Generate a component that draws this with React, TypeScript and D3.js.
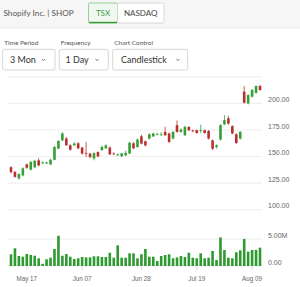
import React from "react";
import * as d3 from "d3";

const dates = [
  "2021-05-11","2021-05-12","2021-05-13","2021-05-14","2021-05-17","2021-05-18","2021-05-19","2021-05-20","2021-05-21",
  "2021-05-25","2021-05-26","2021-05-27","2021-05-28","2021-05-31",
  "2021-06-01","2021-06-02","2021-06-03","2021-06-04","2021-06-07","2021-06-08","2021-06-09","2021-06-10","2021-06-11",
  "2021-06-14","2021-06-15","2021-06-16","2021-06-17","2021-06-18","2021-06-21","2021-06-22","2021-06-23","2021-06-24","2021-06-25",
  "2021-06-28","2021-06-29","2021-06-30","2021-07-02","2021-07-05","2021-07-06","2021-07-07","2021-07-08","2021-07-09",
  "2021-07-12","2021-07-13","2021-07-14","2021-07-15","2021-07-16","2021-07-19","2021-07-20","2021-07-21","2021-07-22","2021-07-23",
  "2021-07-26","2021-07-27","2021-07-28","2021-07-29","2021-07-30","2021-08-03","2021-08-04","2021-08-05","2021-08-06",
  "2021-08-09","2021-08-10","2021-08-11",
];
const opens = [140,135.5,129.5,132.3,142.7,137.7,140,146.5,144,143.6,142.7,147,157.5,165.3,167,160.6,160.6,162.5,158.5,153.5,152.8,148.3,154.3,156,157.8,158.5,152.9,151.5,150.4,151.2,152.9,162.5,159,169.1,164.4,167,169,171,170.6,173.2,171.7,167,179.5,173.2,170,177.9,174.5,174.8,174.2,174.8,174.1,165.3,159,166,180.4,186,178.6,171,167,211,200,206.3,210,216.3];
const highs = [141,136.5,134.5,140,143.5,146,147,148.5,145.5,145,148,160,165.5,173,168.5,161.5,163.5,163.5,159,163.7,153.5,154,155,160.5,161.6,159.5,154,152.9,153.5,155.5,164,163.5,167,170.5,165,172,172.5,172.5,173,178,172.5,174,184,176.5,179,178.5,175.5,175.5,180,175.5,175,166,161.5,180.5,189,188.5,179.5,172,174,216.3,208.5,213.5,217,217.5];
const lows = [134,130,128.5,131.5,138.5,137,139,141,143,143,142,146.5,157,164.5,160,155.5,160,157,152,149.6,148.5,146.5,149.5,155.5,157,151.5,151.5,150.5,149.5,150.5,152.5,157,158.5,161.5,159.5,166,168.5,170,169.5,169.5,163,166,172.5,172.5,169.5,174,173,171.5,172,171.5,166,156,157.5,165,179.5,180,171,162,166,200,199,205.5,209,212];
const closes = [135.5,131,133.5,139,139.5,145,146,141.7,144.5,144.6,147,159,164.7,171.7,160.6,156.5,162.3,157.8,152.8,153,149.6,153.3,150.2,159,160.6,152.1,152.5,152,153,153.5,163,157.8,166,162.2,160.6,171,171.7,171.2,170.9,170.1,163.7,173.2,173.2,175.4,177.9,174.8,174,172.2,174.8,172.2,167,157.5,160.6,179.5,184.2,181,171.7,162.8,173.2,200.6,207.8,212.6,216.3,212.6];
// volume in millions
const volumes = [2.17,3.28,1.85,1.72,2.22,2.04,1.9,1.43,0.4,1.24,1.54,3.15,5.6,1.9,2.22,1.72,1.3,1.43,1.67,1.6,1.6,1.8,1.8,1.67,1.67,2.46,1.54,3.83,1.54,1.54,2.35,2.35,1.43,2.17,3.15,1.72,1.72,0.93,1.85,2.04,2.17,1.43,1.6,1.85,1.67,2.46,1.54,1.43,2.35,1.43,1.54,2.78,1.11,5.3,2.96,1.54,1.43,2.54,2.9,5.0,2.65,2.96,2.96,3.39];

const priceTicks = [100, 125, 150, 175, 200, 225];
const volumeTicks = [0, 5];
const xTickDates = ["2021-05-17", "2021-06-07", "2021-06-28", "2021-07-19", "2021-08-09"];
const xTickLabels = ["May 17", "Jun 07", "Jun 28", "Jul 19", "Aug 09"];
const periods = ["3 Mon", "1 Day", "Candlestick"];
const periodLabels = ["Time Period", "Frequency", "Chart Control"];

const GREEN = "#35a035";
const RED = "#b8312f";
const GRID = "#e9e9e9";
const AXIS_FONT = "'Liberation Sans', Arial, sans-serif";
const UI_FONT = "Lato, 'Open Sans', sans-serif";

export default function App() {
  const W = 300, H = 287;
  const gridX0 = 8, gridX1 = 262;
  const x = d3.scalePoint<string>().domain(dates).range([11, 260]);
  const y = d3.scaleLinear().domain([100, 225]).range([209.8, 76.8]);
  const yv = d3.scaleLinear().domain([0, 5]).range([266, 239]);
  const bw = 2.6;

  const dropdowns = [
    { x: 2.7, w: 52.3, tx: 10, cx: 43.5 },
    { x: 59.3, w: 49, tx: 65.5, cx: 97 },
    { x: 112.7, w: 75, tx: 121, cx: 178 },
  ];

  return (
    <svg width={W} height={H} style={{ position: "absolute", left: 0, top: 0, background: "#fff" }}>
      {/* header strip */}
      <rect x={0} y={0} width={W} height={28} fill="#f6f6f6" />
      <line x1={0} x2={W} y1={28} y2={28} stroke="#e8e8e8" />
      <text x={3.5} y={16} fontFamily={UI_FONT} fontSize={8.2} fill="#555">Shopify Inc. | SHOP</text>
      <rect x={88.5} y={3} width={29} height={20} fill="#f1f8f1" stroke="#7cc47c" strokeWidth={0.8} rx={1.5} />
      <line x1={89} x2={117} y1={22.5} y2={22.5} stroke="#3a9a3a" strokeWidth={1.4} />
      <text x={103} y={15.5} textAnchor="middle" fontFamily={UI_FONT} fontSize={8} fill="#3d9a3d">TSX</text>
      <rect x={117.5} y={3} width={46.5} height={20} fill="#fff" stroke="#cfcfcf" strokeWidth={0.8} rx={1.5} />
      <text x={140.7} y={15.5} textAnchor="middle" fontFamily={UI_FONT} fontSize={8} fill="#444">NASDAQ</text>

      {/* dropdowns */}
      {dropdowns.map((d, i) => (
        <g key={i}>
          <text x={d.x + 1.5} y={45} fontFamily={UI_FONT} fontSize={6.5} fill="#555">{periodLabels[i]}</text>
          <rect x={d.x} y={49.3} width={d.w} height={20.7} fill="#fff" stroke="#cccccc" strokeWidth={0.8} rx={2} />
          <text x={d.tx} y={63} fontFamily={UI_FONT} fontSize={9} fill="#333">{periods[i]}</text>
          <path d={`M${d.cx - 1.6},${59} L${d.cx},${60.6} L${d.cx + 1.6},${59}`} fill="none" stroke="#555" strokeWidth={0.8} />
        </g>
      ))}

      {/* price grid */}
      {priceTicks.map((t) => (
        <g key={"p" + t}>
          <line x1={gridX0} x2={gridX1} y1={y(t)} y2={y(t)} stroke={GRID} strokeWidth={0.8} />
          {t < 225 && (
            <text x={268} y={y(t) - 1.5} fontFamily={AXIS_FONT} fontSize={7} fill="#666">{t.toFixed(2)}</text>
          )}
        </g>
      ))}

      {/* volume grid */}
      {volumeTicks.map((t) => (
        <g key={"v" + t}>
          <line x1={gridX0} x2={gridX1} y1={yv(t)} y2={yv(t)} stroke={GRID} strokeWidth={0.8} />
          <text x={268} y={yv(t) - 1.5} fontFamily={AXIS_FONT} fontSize={7} fill="#666">{t === 0 ? "0.00" : t.toFixed(2) + "M"}</text>
        </g>
      ))}

      {/* volume bars */}
      {dates.map((d, i) => (
        <rect key={"vb" + d} x={(x(d) as number) - bw / 2} y={yv(volumes[i])} width={bw} height={yv(0) - yv(volumes[i])} fill="#2f9a2f" />
      ))}

      {/* candles */}
      {dates.map((d, i) => {
        const cx = x(d) as number;
        const up = closes[i] >= opens[i];
        const col = up ? GREEN : RED;
        const top = y(Math.max(opens[i], closes[i]));
        const bot = y(Math.min(opens[i], closes[i]));
        return (
          <g key={"c" + d}>
            <line x1={cx} x2={cx} y1={y(highs[i])} y2={y(lows[i])} stroke={col} strokeWidth={0.8} />
            <rect x={cx - bw / 2} y={top} width={bw} height={Math.max(0.8, bot - top)} fill={col} />
          </g>
        );
      })}

      {/* x axis ticks */}
      {xTickDates.map((d, i) => (
        <g key={"xt" + d}>
          <line x1={x(d) as number} x2={x(d) as number} y1={267} y2={270} stroke="#cfcfcf" strokeWidth={0.8} />
          <text x={x(d) as number} y={281} textAnchor="middle" fontFamily={AXIS_FONT} fontSize={6.3} fill="#666">{xTickLabels[i]}</text>
        </g>
      ))}
    </svg>
  );
}
